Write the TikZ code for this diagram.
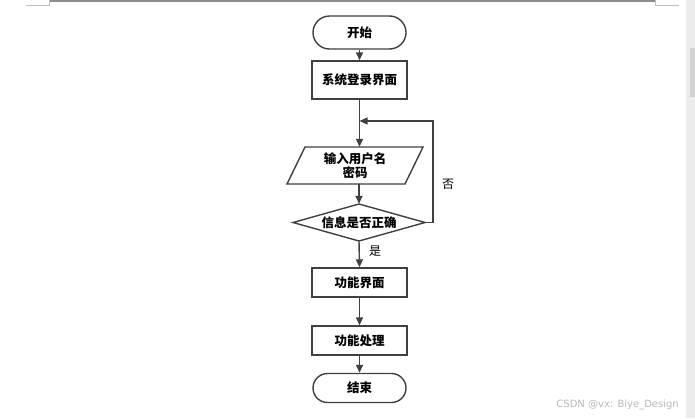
\documentclass[tikz,border=0pt]{standalone}
\usepackage{fontspec}
\newfontfamily\cjk{Noto Sans CJK SC}
\newfontfamily\wm{DejaVu Sans}
\usetikzlibrary{arrows.meta,shapes.misc}
\definecolor{lc}{HTML}{404040}
\tikzset{
  every node/.style={font=\cjk\fontsize{12.5}{15}\selectfont},
  boxnode/.style={draw=lc,line width=1.4pt,rectangle,minimum width=95pt,minimum height=38pt,inner sep=0pt,font=\cjk\bfseries\fontsize{12.5}{15}\selectfont},
  termnode/.style={draw=lc,line width=1.4pt,rounded rectangle,minimum width=93pt,minimum height=33pt,inner sep=0pt,font=\cjk\bfseries\fontsize{12.5}{15}\selectfont},
  plainnode/.style={inner sep=0pt,font=\cjk\bfseries\fontsize{12.5}{15}\selectfont,align=center},
  shapeline/.style={draw=lc,line width=1.4pt,line join=miter},
  conn/.style={draw=lc,line width=1.4pt,-{Triangle[length=8pt,width=7pt]}},
  lbl/.style={inner sep=0pt,font=\cjk\fontsize{12}{14}\selectfont},
}
\begin{document}
\begin{tikzpicture}[x=1pt,y=-1pt]
\useasboundingbox (0,0) rectangle (695,418);
\fill[white] (0,0) rectangle (695,418);
% page frame / scrollbar
\draw[color=gray!90,line width=1.6pt] (50,0.8) -- (655,0.8);
\draw[color=gray!50,line width=1pt] (26,5) -- (49,5) -- (49,0);
\draw[color=gray!50,line width=1pt] (679,5) -- (655,5) -- (655,0);
\fill[color=gray!15] (686,0) rectangle (695,418);
\fill[color=gray!35] (690,48) rectangle (695,97);
\node[anchor=east,inner sep=0pt,font=\wm\fontsize{10}{12}\selectfont,text=gray!55] (wm) at (679,405) {CSDN @vx: Biye\_Design};
% nodes
\node[termnode] (start) at (359.5,32.5) {开始};
\node[boxnode] (login) at (359.5,80) {系统登录界面};
\node[plainnode,minimum width=100pt,minimum height=37pt] (input) at (355,165.5) {输入用户名\\[-1pt]密码};
\draw[shapeline] (305,147) -- (423,147) -- (405,184) -- (287,184) -- cycle;
\node[plainnode,minimum width=132pt,minimum height=37pt] (check) at (359,222.5) {信息是否正确};
\draw[shapeline] (293,222.5) -- (359,204) -- (425,222.5) -- (359,241) -- cycle;
\node[boxnode,minimum height=29pt] (func) at (359.5,282.5) {功能界面};
\node[boxnode,minimum height=29pt] (proc) at (359.5,340.5) {功能处理};
\node[termnode,minimum height=29pt] (stop) at (359.5,388) {结束};
\coordinate (c1) at (433,222.5);
\coordinate (c2) at (433,121);
\coordinate (c3) at (359.5,121);
% connectors
\draw[conn] (start.south) -- (login.north);
\draw[conn] (login.south) -- (login.south |- input.north);
\draw[conn] (input.south -| check.north) -- (check.north);
\draw[conn] (check.south) -- (func.north);
\draw[conn] (func.south) -- (proc.north);
\draw[conn] (proc.south) -- (stop.north);
\draw[conn] (check.east) -- (c1) -- (c2) -- (c3);
\node[lbl] (no) at (448,184) {否};
\node[lbl] (yes) at (375,251) {是};
\end{tikzpicture}
\end{document}
